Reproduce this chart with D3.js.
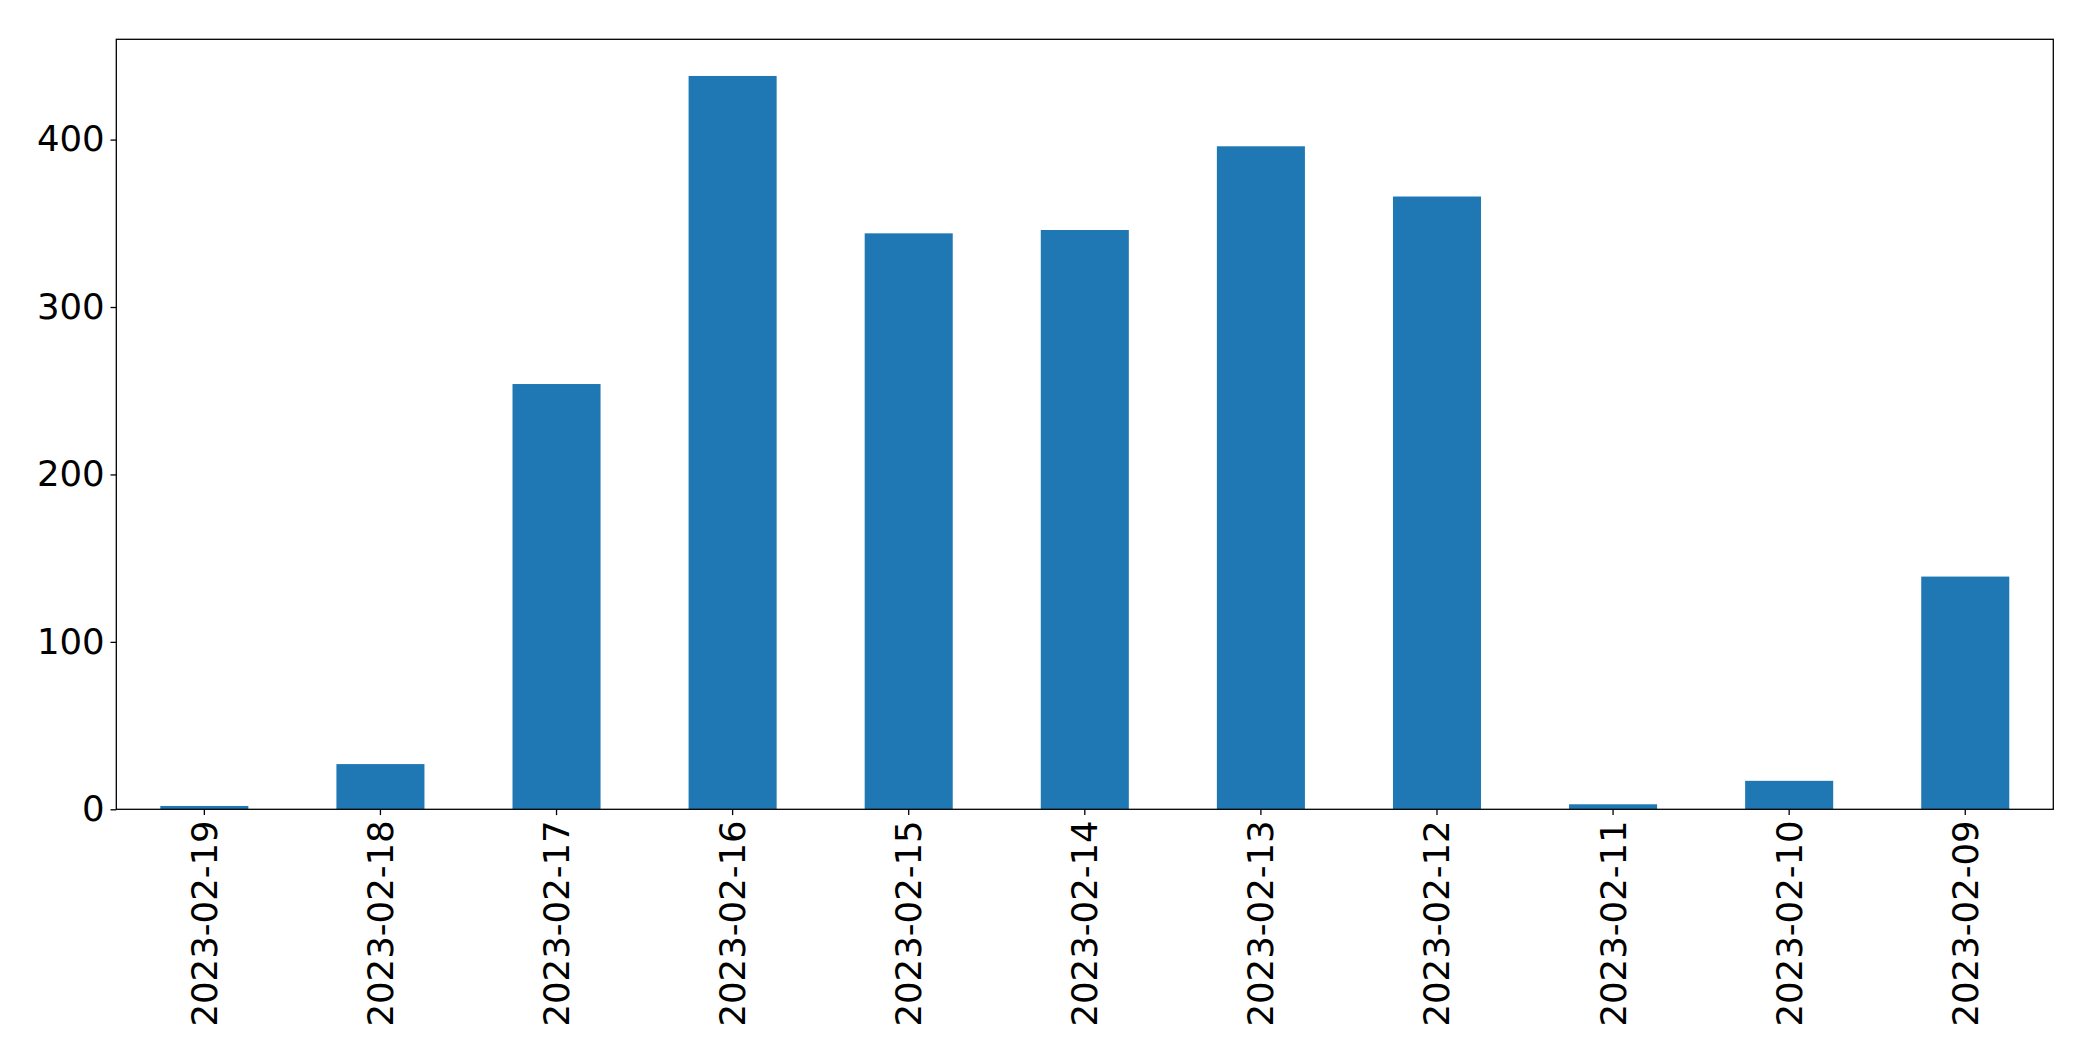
<!DOCTYPE html>
<html>
<head>
<meta charset="utf-8">
<script src="https://cdn.jsdelivr.net/npm/d3@7"></script>
<style>
  html, body { margin: 0; padding: 0; background: #fff; }
  svg { display: block; }
</style>
</head>
<body>
<script>
const categories = ["2023-02-19","2023-02-18","2023-02-17","2023-02-16","2023-02-15","2023-02-14","2023-02-13","2023-02-12","2023-02-11","2023-02-10","2023-02-09"];
const values = [2, 27, 254, 438, 344, 346, 396, 366, 3, 17, 139];
const yTicks = [0, 100, 200, 300, 400];

const W = 2093, H = 1061;
const margin = {left: 116.3, right: W - 2053.3, top: 39.3, bottom: H - 809.3};
const fontSize = 35.5;
const font = "'DejaVu Sans', sans-serif";

const svg = d3.select("body").append("svg").attr("width", W).attr("height", H);

const x = d3.scaleBand().domain(categories)
  .range([margin.left, W - margin.right])
  .paddingInner(0.5).paddingOuter(0.25);
const yMax = d3.max(values) * 1.05;
const y = d3.scaleLinear().domain([0, yMax]).range([H - margin.bottom, margin.top]);

svg.append("g").selectAll("rect").data(categories).join("rect")
  .attr("x", d => x(d))
  .attr("width", x.bandwidth())
  .attr("y", (d, i) => y(values[i]))
  .attr("height", (d, i) => y(0) - y(values[i]))
  .attr("fill", "#1f77b4");

// frame
svg.append("rect")
  .attr("x", margin.left).attr("y", margin.top)
  .attr("width", W - margin.right - margin.left)
  .attr("height", H - margin.bottom - margin.top)
  .attr("fill", "none").attr("stroke", "#000").attr("stroke-width", 1.3);

const xAxis = svg.append("g")
  .attr("transform", `translate(0,${H - margin.bottom})`)
  .call(d3.axisBottom(x).tickSizeOuter(0).tickSize(5.8).tickPadding(5.8));
xAxis.select(".domain").remove();
xAxis.selectAll(".tick line").attr("stroke", "#000").attr("stroke-width", 1.3);
xAxis.selectAll(".tick text")
  .attr("font-family", font).attr("font-size", fontSize).attr("fill", "#000")
  .attr("transform", "rotate(-90)")
  .attr("x", -11).attr("y", 0).attr("dy", "0.35em")
  .attr("text-anchor", "end");

const yAxis = svg.append("g")
  .attr("transform", `translate(${margin.left},0)`)
  .call(d3.axisLeft(y).tickValues(yTicks).tickSizeOuter(0).tickSize(5.8).tickPadding(5.8));
yAxis.select(".domain").remove();
yAxis.selectAll(".tick line").attr("stroke", "#000").attr("stroke-width", 1.3);
yAxis.selectAll(".tick text")
  .attr("font-family", font).attr("font-size", fontSize).attr("fill", "#000");
</script>
</body>
</html>
